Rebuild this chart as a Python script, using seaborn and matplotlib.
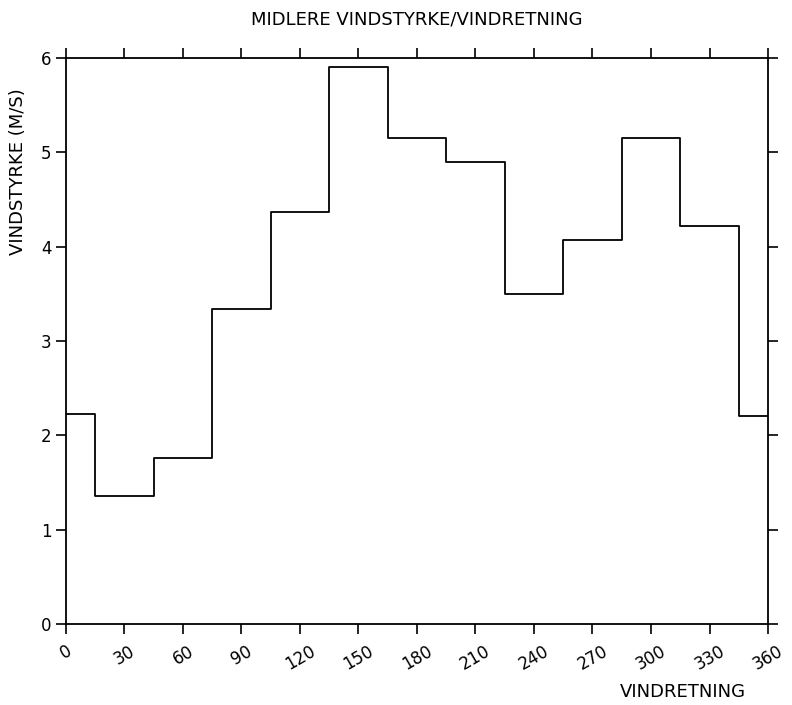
import numpy as np
import pandas as pd
import seaborn as sns
import matplotlib.pyplot as plt

# wind direction sectors (centres, degrees) and mean wind speed (m/s)
retning = [0, 30, 60, 90, 120, 150, 180, 210, 240, 270, 300, 330, 360]
styrke = [2.23, 1.36, 1.76, 3.34, 4.37, 5.91, 5.15, 4.90, 3.50, 4.07, 5.15, 4.22, 2.20]

x_ticks = list(range(0, 361, 30))
y_ticks = [0, 1, 2, 3, 4, 5, 6]

df = pd.DataFrame({'retning': retning, 'styrke': styrke})

sns.set_style('white')
plt.rcParams['font.family'] = ['DejaVu Sans']
plt.rcParams['text.color'] = 'black'
plt.rcParams['axes.labelcolor'] = 'black'
plt.rcParams['xtick.color'] = 'black'
plt.rcParams['ytick.color'] = 'black'

fig = plt.figure(figsize=(7.92, 7.05), dpi=100)
ax = fig.add_axes([0.0833, 0.1149, 0.8864, 0.8028])

# steps-mid -> each sector value spans +/-15 degrees around its centre
sns.lineplot(data=df, x='retning', y='styrke', color='black', linewidth=1.3,
             drawstyle='steps-mid', ax=ax)

ax.set_xlim(0, 360)
ax.set_ylim(0, 6)
ax.set_xticks(x_ticks)
ax.set_yticks(y_ticks)
ax.set_xticklabels([str(t) for t in x_ticks], rotation=30, ha='center', fontsize=12)
ax.set_yticklabels([str(t) for t in y_ticks], fontsize=12)

for s in ax.spines.values():
    s.set_color('black')
    s.set_linewidth(1.3)

ax.tick_params(axis='both', direction='out', length=7, width=1.2, color='black',
               bottom=True, top=True, left=True, right=True,
               labelbottom=True, labeltop=False, labelleft=True, labelright=False)
ax.tick_params(axis='x', pad=6)

ax.set_title('MIDLERE VINDSTYRKE/VINDRETNING', fontsize=13, y=1.045, color='black')
ax.set_xlabel('VINDRETNING', fontsize=13, va='center')
ax.set_ylabel('VINDSTYRKE (M/S)', fontsize=13, va='center')
ax.xaxis.set_label_coords(0.879, -0.12)
ax.yaxis.set_label_coords(-0.068, 0.80)

plt.savefig('out.png', dpi=100)
